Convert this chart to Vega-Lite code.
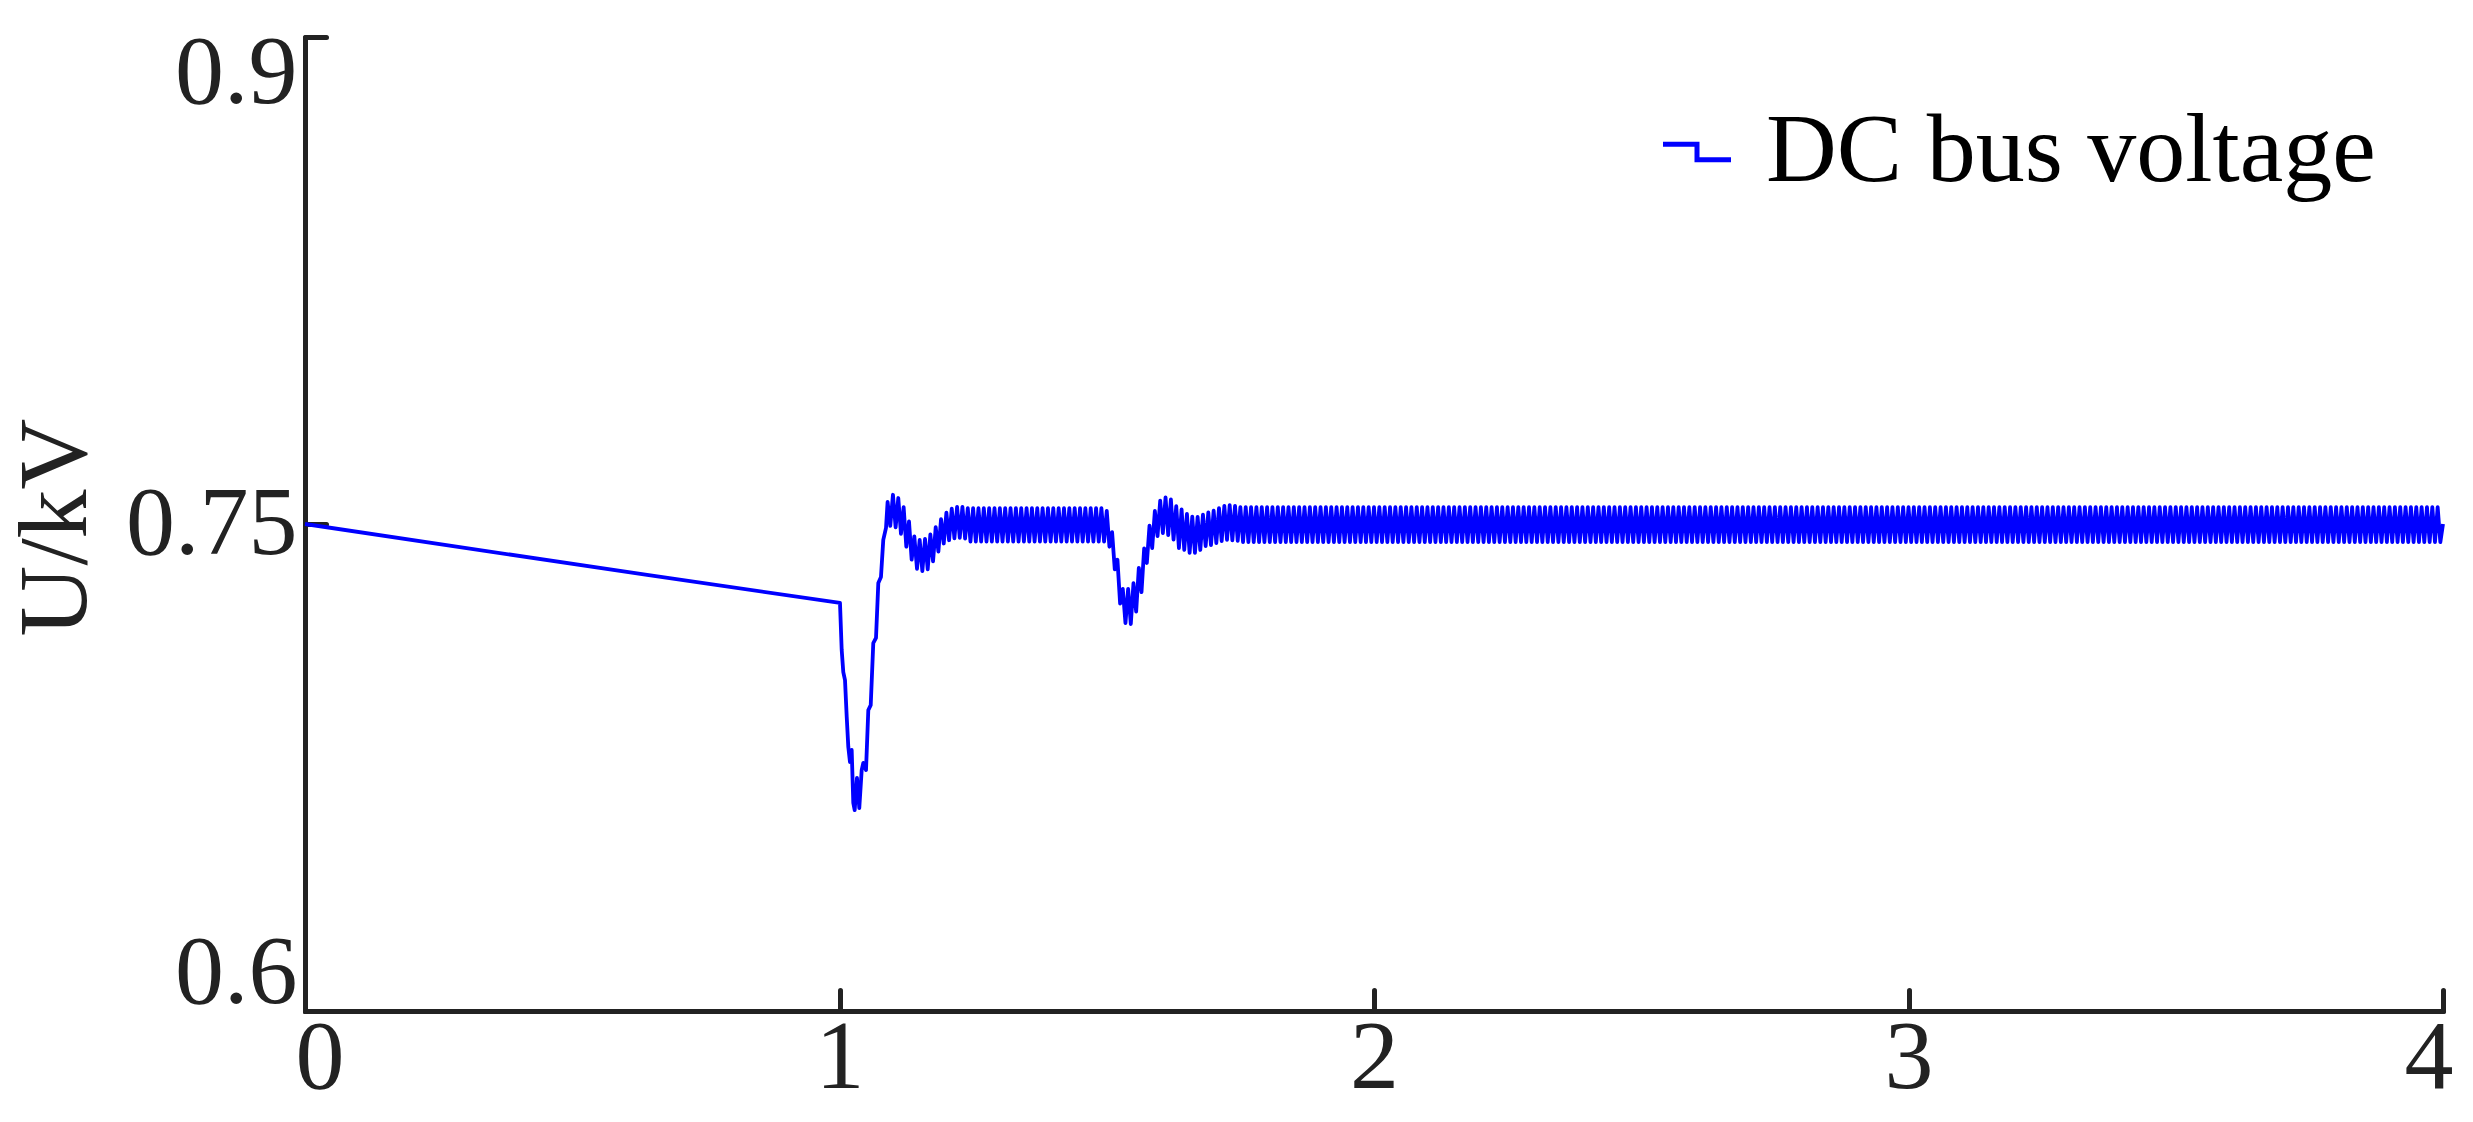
{
"$schema": "https://vega.github.io/schema/vega-lite/v6.json",
"width": 2138, "height": 974,
"autosize": "none",
"padding": {"left": 305, "top": 37, "right": 30, "bottom": 111},
"background": "white",
"config": {"view": {"stroke": null}, "font": "Liberation Serif"},
"data": {"values": [
{"t":0,"v":0.75},{"t":0.64,"v":0.7343},{"t":1.0009,"v":0.7257},
{"t":1.0041,"v":0.7112},{"t":1.0071,"v":0.7044},{"t":1.0103,"v":0.7019},{"t":1.0135,"v":0.6906},{"t":1.0165,"v":0.6813},{"t":1.0196,"v":0.6767},{"t":1.0228,"v":0.6804},{"t":1.0258,"v":0.6641},{"t":1.0284,"v":0.6619},{"t":1.0327,"v":0.6718},{"t":1.037,"v":0.6625},{"t":1.0415,"v":0.6742},{"t":1.0445,"v":0.6764},{"t":1.0496,"v":0.6742},{"t":1.0539,"v":0.6927},{"t":1.0584,"v":0.6942},{"t":1.0632,"v":0.7133},{"t":1.0683,"v":0.7149},{"t":1.0726,"v":0.7318},{"t":1.0776,"v":0.7337},{"t":1.0819,"v":0.7451},{"t":1.087,"v":0.7488},
{"t":1.09,"v":0.7568},{"t":1.095,"v":0.7494},{"t":1.1,"v":0.759},{"t":1.105,"v":0.749},{"t":1.11,"v":0.758},{"t":1.115,"v":0.747},{"t":1.12,"v":0.7552},{"t":1.125,"v":0.743},{"t":1.13,"v":0.7508},{"t":1.135,"v":0.739},{"t":1.14,"v":0.7462},{"t":1.145,"v":0.7362},{"t":1.15,"v":0.7451},{"t":1.155,"v":0.7355},{"t":1.16,"v":0.7454},{"t":1.165,"v":0.736},{"t":1.17,"v":0.7468},{"t":1.175,"v":0.7385},{"t":1.18,"v":0.749},{"t":1.185,"v":0.7415},{"t":1.19,"v":0.7515},{"t":1.195,"v":0.744},{"t":1.2,"v":0.7535},{"t":1.205,"v":0.745},{"t":1.21,"v":0.7547},{"t":1.215,"v":0.7456},{"t":1.22,"v":0.7553},{"t":1.225,"v":0.7457},{"t":1.23,"v":0.7553},{"t":1.235,"v":0.7455},
{"t":1.24,"v":0.7549},{"t":1.245,"v":0.7446},{"t":1.25,"v":0.7549},{"t":1.255,"v":0.7446},{"t":1.26,"v":0.7549},{"t":1.265,"v":0.7446},{"t":1.27,"v":0.7549},{"t":1.275,"v":0.7446},{"t":1.28,"v":0.7549},{"t":1.285,"v":0.7446},{"t":1.29,"v":0.7549},{"t":1.295,"v":0.7446},{"t":1.3,"v":0.7549},{"t":1.305,"v":0.7446},{"t":1.31,"v":0.7549},{"t":1.315,"v":0.7446},{"t":1.32,"v":0.7549},{"t":1.325,"v":0.7446},{"t":1.33,"v":0.7549},{"t":1.335,"v":0.7446},{"t":1.34,"v":0.7549},{"t":1.345,"v":0.7446},{"t":1.35,"v":0.7549},{"t":1.355,"v":0.7446},{"t":1.36,"v":0.7549},{"t":1.365,"v":0.7446},{"t":1.37,"v":0.7549},{"t":1.375,"v":0.7446},{"t":1.38,"v":0.7549},{"t":1.385,"v":0.7446},{"t":1.39,"v":0.7549},{"t":1.395,"v":0.7446},{"t":1.4,"v":0.7549},{"t":1.405,"v":0.7446},{"t":1.41,"v":0.7549},{"t":1.415,"v":0.7446},{"t":1.42,"v":0.7549},{"t":1.425,"v":0.7446},{"t":1.43,"v":0.7549},{"t":1.435,"v":0.7446},{"t":1.44,"v":0.7549},{"t":1.445,"v":0.7446},{"t":1.45,"v":0.7549},{"t":1.455,"v":0.7446},{"t":1.46,"v":0.7549},{"t":1.465,"v":0.7446},{"t":1.47,"v":0.7549},{"t":1.475,"v":0.7446},{"t":1.48,"v":0.7549},{"t":1.485,"v":0.7446},{"t":1.49,"v":0.7549},{"t":1.495,"v":0.7446},
{"t":1.5,"v":0.754},{"t":1.505,"v":0.743},{"t":1.51,"v":0.7475},{"t":1.515,"v":0.736},{"t":1.52,"v":0.739},{"t":1.525,"v":0.7255},{"t":1.53,"v":0.73},{"t":1.535,"v":0.7195},{"t":1.54,"v":0.73},{"t":1.545,"v":0.7192},{"t":1.55,"v":0.7318},{"t":1.555,"v":0.723},{"t":1.56,"v":0.7365},{"t":1.565,"v":0.729},{"t":1.57,"v":0.7425},{"t":1.575,"v":0.738},{"t":1.58,"v":0.7495},{"t":1.585,"v":0.7426},{"t":1.59,"v":0.754},{"t":1.595,"v":0.7463},{"t":1.6,"v":0.7572},{"t":1.605,"v":0.7472},{"t":1.61,"v":0.7582},{"t":1.615,"v":0.7466},{"t":1.62,"v":0.7576},{"t":1.625,"v":0.7452},{"t":1.63,"v":0.7555},{"t":1.635,"v":0.7426},{"t":1.64,"v":0.7545},{"t":1.645,"v":0.742},{"t":1.65,"v":0.7531},{"t":1.655,"v":0.7411},{"t":1.66,"v":0.7523},{"t":1.665,"v":0.7411},{"t":1.67,"v":0.7522},{"t":1.675,"v":0.742},{"t":1.68,"v":0.7529},{"t":1.685,"v":0.7432},{"t":1.69,"v":0.7536},{"t":1.695,"v":0.7435},{"t":1.7,"v":0.7541},{"t":1.705,"v":0.7441},{"t":1.71,"v":0.7549},{"t":1.715,"v":0.7447},{"t":1.72,"v":0.7556},{"t":1.725,"v":0.7451},{"t":1.73,"v":0.7558},{"t":1.735,"v":0.745},{"t":1.74,"v":0.7556},{"t":1.745,"v":0.7448},
{"t":1.75,"v":0.7552},{"t":1.755,"v":0.7444},{"t":1.76,"v":0.7552},{"t":1.765,"v":0.7444},{"t":1.77,"v":0.7552},{"t":1.775,"v":0.7444},{"t":1.78,"v":0.7552},{"t":1.785,"v":0.7444},{"t":1.79,"v":0.7552},{"t":1.795,"v":0.7444},
{"t":1.8,"v":0.7552},{"t":1.805,"v":0.7444},{"t":1.81,"v":0.7552},{"t":1.815,"v":0.7444},{"t":1.82,"v":0.7552},{"t":1.825,"v":0.7444},{"t":1.83,"v":0.7552},{"t":1.835,"v":0.7444},{"t":1.84,"v":0.7552},{"t":1.845,"v":0.7444},{"t":1.85,"v":0.7552},{"t":1.855,"v":0.7444},{"t":1.86,"v":0.7552},{"t":1.865,"v":0.7444},{"t":1.87,"v":0.7552},{"t":1.875,"v":0.7444},{"t":1.88,"v":0.7552},{"t":1.885,"v":0.7444},{"t":1.89,"v":0.7552},{"t":1.895,"v":0.7444},
{"t":1.9,"v":0.7552},{"t":1.905,"v":0.7444},{"t":1.91,"v":0.7552},{"t":1.915,"v":0.7444},{"t":1.92,"v":0.7552},{"t":1.925,"v":0.7444},{"t":1.93,"v":0.7552},{"t":1.935,"v":0.7444},{"t":1.94,"v":0.7552},{"t":1.945,"v":0.7444},{"t":1.95,"v":0.7552},{"t":1.955,"v":0.7444},{"t":1.96,"v":0.7552},{"t":1.965,"v":0.7444},{"t":1.97,"v":0.7552},{"t":1.975,"v":0.7444},{"t":1.98,"v":0.7552},{"t":1.985,"v":0.7444},{"t":1.99,"v":0.7552},{"t":1.995,"v":0.7444},
{"t":2.0,"v":0.7552},{"t":2.005,"v":0.7444},{"t":2.01,"v":0.7552},{"t":2.015,"v":0.7444},{"t":2.02,"v":0.7552},{"t":2.025,"v":0.7444},{"t":2.03,"v":0.7552},{"t":2.035,"v":0.7444},{"t":2.04,"v":0.7552},{"t":2.045,"v":0.7444},{"t":2.05,"v":0.7552},{"t":2.055,"v":0.7444},{"t":2.06,"v":0.7552},{"t":2.065,"v":0.7444},{"t":2.07,"v":0.7552},{"t":2.075,"v":0.7444},{"t":2.08,"v":0.7552},{"t":2.085,"v":0.7444},{"t":2.09,"v":0.7552},{"t":2.095,"v":0.7444},
{"t":2.1,"v":0.7552},{"t":2.105,"v":0.7444},{"t":2.11,"v":0.7552},{"t":2.115,"v":0.7444},{"t":2.12,"v":0.7552},{"t":2.125,"v":0.7444},{"t":2.13,"v":0.7552},{"t":2.135,"v":0.7444},{"t":2.14,"v":0.7552},{"t":2.145,"v":0.7444},{"t":2.15,"v":0.7552},{"t":2.155,"v":0.7444},{"t":2.16,"v":0.7552},{"t":2.165,"v":0.7444},{"t":2.17,"v":0.7552},{"t":2.175,"v":0.7444},{"t":2.18,"v":0.7552},{"t":2.185,"v":0.7444},{"t":2.19,"v":0.7552},{"t":2.195,"v":0.7444},
{"t":2.2,"v":0.7552},{"t":2.205,"v":0.7444},{"t":2.21,"v":0.7552},{"t":2.215,"v":0.7444},{"t":2.22,"v":0.7552},{"t":2.225,"v":0.7444},{"t":2.23,"v":0.7552},{"t":2.235,"v":0.7444},{"t":2.24,"v":0.7552},{"t":2.245,"v":0.7444},{"t":2.25,"v":0.7552},{"t":2.255,"v":0.7444},{"t":2.26,"v":0.7552},{"t":2.265,"v":0.7444},{"t":2.27,"v":0.7552},{"t":2.275,"v":0.7444},{"t":2.28,"v":0.7552},{"t":2.285,"v":0.7444},{"t":2.29,"v":0.7552},{"t":2.295,"v":0.7444},
{"t":2.3,"v":0.7552},{"t":2.305,"v":0.7444},{"t":2.31,"v":0.7552},{"t":2.315,"v":0.7444},{"t":2.32,"v":0.7552},{"t":2.325,"v":0.7444},{"t":2.33,"v":0.7552},{"t":2.335,"v":0.7444},{"t":2.34,"v":0.7552},{"t":2.345,"v":0.7444},{"t":2.35,"v":0.7552},{"t":2.355,"v":0.7444},{"t":2.36,"v":0.7552},{"t":2.365,"v":0.7444},{"t":2.37,"v":0.7552},{"t":2.375,"v":0.7444},{"t":2.38,"v":0.7552},{"t":2.385,"v":0.7444},{"t":2.39,"v":0.7552},{"t":2.395,"v":0.7444},
{"t":2.4,"v":0.7552},{"t":2.405,"v":0.7444},{"t":2.41,"v":0.7552},{"t":2.415,"v":0.7444},{"t":2.42,"v":0.7552},{"t":2.425,"v":0.7444},{"t":2.43,"v":0.7552},{"t":2.435,"v":0.7444},{"t":2.44,"v":0.7552},{"t":2.445,"v":0.7444},{"t":2.45,"v":0.7552},{"t":2.455,"v":0.7444},{"t":2.46,"v":0.7552},{"t":2.465,"v":0.7444},{"t":2.47,"v":0.7552},{"t":2.475,"v":0.7444},{"t":2.48,"v":0.7552},{"t":2.485,"v":0.7444},{"t":2.49,"v":0.7552},{"t":2.495,"v":0.7444},
{"t":2.5,"v":0.7552},{"t":2.505,"v":0.7444},{"t":2.51,"v":0.7552},{"t":2.515,"v":0.7444},{"t":2.52,"v":0.7552},{"t":2.525,"v":0.7444},{"t":2.53,"v":0.7552},{"t":2.535,"v":0.7444},{"t":2.54,"v":0.7552},{"t":2.545,"v":0.7444},{"t":2.55,"v":0.7552},{"t":2.555,"v":0.7444},{"t":2.56,"v":0.7552},{"t":2.565,"v":0.7444},{"t":2.57,"v":0.7552},{"t":2.575,"v":0.7444},{"t":2.58,"v":0.7552},{"t":2.585,"v":0.7444},{"t":2.59,"v":0.7552},{"t":2.595,"v":0.7444},
{"t":2.6,"v":0.7552},{"t":2.605,"v":0.7444},{"t":2.61,"v":0.7552},{"t":2.615,"v":0.7444},{"t":2.62,"v":0.7552},{"t":2.625,"v":0.7444},{"t":2.63,"v":0.7552},{"t":2.635,"v":0.7444},{"t":2.64,"v":0.7552},{"t":2.645,"v":0.7444},{"t":2.65,"v":0.7552},{"t":2.655,"v":0.7444},{"t":2.66,"v":0.7552},{"t":2.665,"v":0.7444},{"t":2.67,"v":0.7552},{"t":2.675,"v":0.7444},{"t":2.68,"v":0.7552},{"t":2.685,"v":0.7444},{"t":2.69,"v":0.7552},{"t":2.695,"v":0.7444},
{"t":2.7,"v":0.7552},{"t":2.705,"v":0.7444},{"t":2.71,"v":0.7552},{"t":2.715,"v":0.7444},{"t":2.72,"v":0.7552},{"t":2.725,"v":0.7444},{"t":2.73,"v":0.7552},{"t":2.735,"v":0.7444},{"t":2.74,"v":0.7552},{"t":2.745,"v":0.7444},{"t":2.75,"v":0.7552},{"t":2.755,"v":0.7444},{"t":2.76,"v":0.7552},{"t":2.765,"v":0.7444},{"t":2.77,"v":0.7552},{"t":2.775,"v":0.7444},{"t":2.78,"v":0.7552},{"t":2.785,"v":0.7444},{"t":2.79,"v":0.7552},{"t":2.795,"v":0.7444},
{"t":2.8,"v":0.7552},{"t":2.805,"v":0.7444},{"t":2.81,"v":0.7552},{"t":2.815,"v":0.7444},{"t":2.82,"v":0.7552},{"t":2.825,"v":0.7444},{"t":2.83,"v":0.7552},{"t":2.835,"v":0.7444},{"t":2.84,"v":0.7552},{"t":2.845,"v":0.7444},{"t":2.85,"v":0.7552},{"t":2.855,"v":0.7444},{"t":2.86,"v":0.7552},{"t":2.865,"v":0.7444},{"t":2.87,"v":0.7552},{"t":2.875,"v":0.7444},{"t":2.88,"v":0.7552},{"t":2.885,"v":0.7444},{"t":2.89,"v":0.7552},{"t":2.895,"v":0.7444},
{"t":2.9,"v":0.7552},{"t":2.905,"v":0.7444},{"t":2.91,"v":0.7552},{"t":2.915,"v":0.7444},{"t":2.92,"v":0.7552},{"t":2.925,"v":0.7444},{"t":2.93,"v":0.7552},{"t":2.935,"v":0.7444},{"t":2.94,"v":0.7552},{"t":2.945,"v":0.7444},{"t":2.95,"v":0.7552},{"t":2.955,"v":0.7444},{"t":2.96,"v":0.7552},{"t":2.965,"v":0.7444},{"t":2.97,"v":0.7552},{"t":2.975,"v":0.7444},{"t":2.98,"v":0.7552},{"t":2.985,"v":0.7444},{"t":2.99,"v":0.7552},{"t":2.995,"v":0.7444},
{"t":3.0,"v":0.7552},{"t":3.005,"v":0.7444},{"t":3.01,"v":0.7552},{"t":3.015,"v":0.7444},{"t":3.02,"v":0.7552},{"t":3.025,"v":0.7444},{"t":3.03,"v":0.7552},{"t":3.035,"v":0.7444},{"t":3.04,"v":0.7552},{"t":3.045,"v":0.7444},{"t":3.05,"v":0.7552},{"t":3.055,"v":0.7444},{"t":3.06,"v":0.7552},{"t":3.065,"v":0.7444},{"t":3.07,"v":0.7552},{"t":3.075,"v":0.7444},{"t":3.08,"v":0.7552},{"t":3.085,"v":0.7444},{"t":3.09,"v":0.7552},{"t":3.095,"v":0.7444},
{"t":3.1,"v":0.7552},{"t":3.105,"v":0.7444},{"t":3.11,"v":0.7552},{"t":3.115,"v":0.7444},{"t":3.12,"v":0.7552},{"t":3.125,"v":0.7444},{"t":3.13,"v":0.7552},{"t":3.135,"v":0.7444},{"t":3.14,"v":0.7552},{"t":3.145,"v":0.7444},{"t":3.15,"v":0.7552},{"t":3.155,"v":0.7444},{"t":3.16,"v":0.7552},{"t":3.165,"v":0.7444},{"t":3.17,"v":0.7552},{"t":3.175,"v":0.7444},{"t":3.18,"v":0.7552},{"t":3.185,"v":0.7444},{"t":3.19,"v":0.7552},{"t":3.195,"v":0.7444},
{"t":3.2,"v":0.7552},{"t":3.205,"v":0.7444},{"t":3.21,"v":0.7552},{"t":3.215,"v":0.7444},{"t":3.22,"v":0.7552},{"t":3.225,"v":0.7444},{"t":3.23,"v":0.7552},{"t":3.235,"v":0.7444},{"t":3.24,"v":0.7552},{"t":3.245,"v":0.7444},{"t":3.25,"v":0.7552},{"t":3.255,"v":0.7444},{"t":3.26,"v":0.7552},{"t":3.265,"v":0.7444},{"t":3.27,"v":0.7552},{"t":3.275,"v":0.7444},{"t":3.28,"v":0.7552},{"t":3.285,"v":0.7444},{"t":3.29,"v":0.7552},{"t":3.295,"v":0.7444},
{"t":3.3,"v":0.7552},{"t":3.305,"v":0.7444},{"t":3.31,"v":0.7552},{"t":3.315,"v":0.7444},{"t":3.32,"v":0.7552},{"t":3.325,"v":0.7444},{"t":3.33,"v":0.7552},{"t":3.335,"v":0.7444},{"t":3.34,"v":0.7552},{"t":3.345,"v":0.7444},{"t":3.35,"v":0.7552},{"t":3.355,"v":0.7444},{"t":3.36,"v":0.7552},{"t":3.365,"v":0.7444},{"t":3.37,"v":0.7552},{"t":3.375,"v":0.7444},{"t":3.38,"v":0.7552},{"t":3.385,"v":0.7444},{"t":3.39,"v":0.7552},{"t":3.395,"v":0.7444},
{"t":3.4,"v":0.7552},{"t":3.405,"v":0.7444},{"t":3.41,"v":0.7552},{"t":3.415,"v":0.7444},{"t":3.42,"v":0.7552},{"t":3.425,"v":0.7444},{"t":3.43,"v":0.7552},{"t":3.435,"v":0.7444},{"t":3.44,"v":0.7552},{"t":3.445,"v":0.7444},{"t":3.45,"v":0.7552},{"t":3.455,"v":0.7444},{"t":3.46,"v":0.7552},{"t":3.465,"v":0.7444},{"t":3.47,"v":0.7552},{"t":3.475,"v":0.7444},{"t":3.48,"v":0.7552},{"t":3.485,"v":0.7444},{"t":3.49,"v":0.7552},{"t":3.495,"v":0.7444},
{"t":3.5,"v":0.7552},{"t":3.505,"v":0.7444},{"t":3.51,"v":0.7552},{"t":3.515,"v":0.7444},{"t":3.52,"v":0.7552},{"t":3.525,"v":0.7444},{"t":3.53,"v":0.7552},{"t":3.535,"v":0.7444},{"t":3.54,"v":0.7552},{"t":3.545,"v":0.7444},{"t":3.55,"v":0.7552},{"t":3.555,"v":0.7444},{"t":3.56,"v":0.7552},{"t":3.565,"v":0.7444},{"t":3.57,"v":0.7552},{"t":3.575,"v":0.7444},{"t":3.58,"v":0.7552},{"t":3.585,"v":0.7444},{"t":3.59,"v":0.7552},{"t":3.595,"v":0.7444},
{"t":3.6,"v":0.7552},{"t":3.605,"v":0.7444},{"t":3.61,"v":0.7552},{"t":3.615,"v":0.7444},{"t":3.62,"v":0.7552},{"t":3.625,"v":0.7444},{"t":3.63,"v":0.7552},{"t":3.635,"v":0.7444},{"t":3.64,"v":0.7552},{"t":3.645,"v":0.7444},{"t":3.65,"v":0.7552},{"t":3.655,"v":0.7444},{"t":3.66,"v":0.7552},{"t":3.665,"v":0.7444},{"t":3.67,"v":0.7552},{"t":3.675,"v":0.7444},{"t":3.68,"v":0.7552},{"t":3.685,"v":0.7444},{"t":3.69,"v":0.7552},{"t":3.695,"v":0.7444},
{"t":3.7,"v":0.7552},{"t":3.705,"v":0.7444},{"t":3.71,"v":0.7552},{"t":3.715,"v":0.7444},{"t":3.72,"v":0.7552},{"t":3.725,"v":0.7444},{"t":3.73,"v":0.7552},{"t":3.735,"v":0.7444},{"t":3.74,"v":0.7552},{"t":3.745,"v":0.7444},{"t":3.75,"v":0.7552},{"t":3.755,"v":0.7444},{"t":3.76,"v":0.7552},{"t":3.765,"v":0.7444},{"t":3.77,"v":0.7552},{"t":3.775,"v":0.7444},{"t":3.78,"v":0.7552},{"t":3.785,"v":0.7444},{"t":3.79,"v":0.7552},{"t":3.795,"v":0.7444},
{"t":3.8,"v":0.7552},{"t":3.805,"v":0.7444},{"t":3.81,"v":0.7552},{"t":3.815,"v":0.7444},{"t":3.82,"v":0.7552},{"t":3.825,"v":0.7444},{"t":3.83,"v":0.7552},{"t":3.835,"v":0.7444},{"t":3.84,"v":0.7552},{"t":3.845,"v":0.7444},{"t":3.85,"v":0.7552},{"t":3.855,"v":0.7444},{"t":3.86,"v":0.7552},{"t":3.865,"v":0.7444},{"t":3.87,"v":0.7552},{"t":3.875,"v":0.7444},{"t":3.88,"v":0.7552},{"t":3.885,"v":0.7444},{"t":3.89,"v":0.7552},{"t":3.895,"v":0.7444},
{"t":3.9,"v":0.7552},{"t":3.905,"v":0.7444},{"t":3.91,"v":0.7552},{"t":3.915,"v":0.7444},{"t":3.92,"v":0.7552},{"t":3.925,"v":0.7444},{"t":3.93,"v":0.7552},{"t":3.935,"v":0.7444},{"t":3.94,"v":0.7552},{"t":3.945,"v":0.7444},{"t":3.95,"v":0.7552},{"t":3.955,"v":0.7444},{"t":3.96,"v":0.7552},{"t":3.965,"v":0.7444},{"t":3.97,"v":0.7552},{"t":3.975,"v":0.7444},{"t":3.98,"v":0.7552},{"t":3.985,"v":0.7444},{"t":3.99,"v":0.7552},{"t":3.995,"v":0.7444},
{"t":4.0,"v":0.75}
]},
"mark": {"type": "line", "strokeWidth": 3.8, "strokeJoin": "round"},
"encoding": {
  "x": {"field": "t", "type": "quantitative",
    "scale": {"domain": [0, 4], "nice": false, "zero": false},
    "axis": {"values": [0, 1, 2, 3, 4], "title": null, "grid": false, "format": "d",
      "domainColor": "#222222", "domainWidth": 5, "domainCap": "round",
      "tickColor": "#222222", "tickWidth": 5, "tickSize": -21, "tickCap": "round",
      "labelFont": "Liberation Serif", "labelFontSize": 98, "labelColor": "#222222",
      "labelPadding": 20, "labelFlush": true, "labelFlushOffset": 10}},
  "y": {"field": "v", "type": "quantitative",
    "scale": {"domain": [0.6, 0.9], "nice": false, "zero": false},
    "axis": {"values": [0.6, 0.75, 0.9], "format": ".2~f", "grid": false,
      "title": "U/kV", "titleFont": "Liberation Serif", "titleFontSize": 98, "titleFontWeight": "normal",
      "titleColor": "#222222", "titleX": -220, "titleY": 490, "titleAngle": -90, "titleAlign": "center", "titleBaseline": "alphabetic",
      "domainColor": "#222222", "domainWidth": 5, "domainCap": "round",
      "tickColor": "#222222", "tickWidth": 5, "tickSize": -21, "tickCap": "round",
      "labelFont": "Liberation Serif", "labelFontSize": 98, "labelColor": "#222222",
      "labelPadding": 29, "labelFlush": true, "labelFlushOffset": 12}},
  "color": {"datum": "DC bus voltage", "type": "nominal",
    "scale": {"range": ["#0000ff"]},
    "legend": {"orient": "none", "legendX": 1343, "legendY": 66, "title": null, "padding": 0,
      "symbolType": "M-1,-0.23H0V0.23H1", "symbolSize": 4624, "symbolStrokeWidth": 5,
      "symbolFillColor": "transparent", "symbolStrokeColor": "#0000ff",
      "labelFont": "Liberation Serif", "labelFontSize": 98, "labelColor": "#000000", "labelOffset": 20, "labelLimit": 2000}}
}
}
